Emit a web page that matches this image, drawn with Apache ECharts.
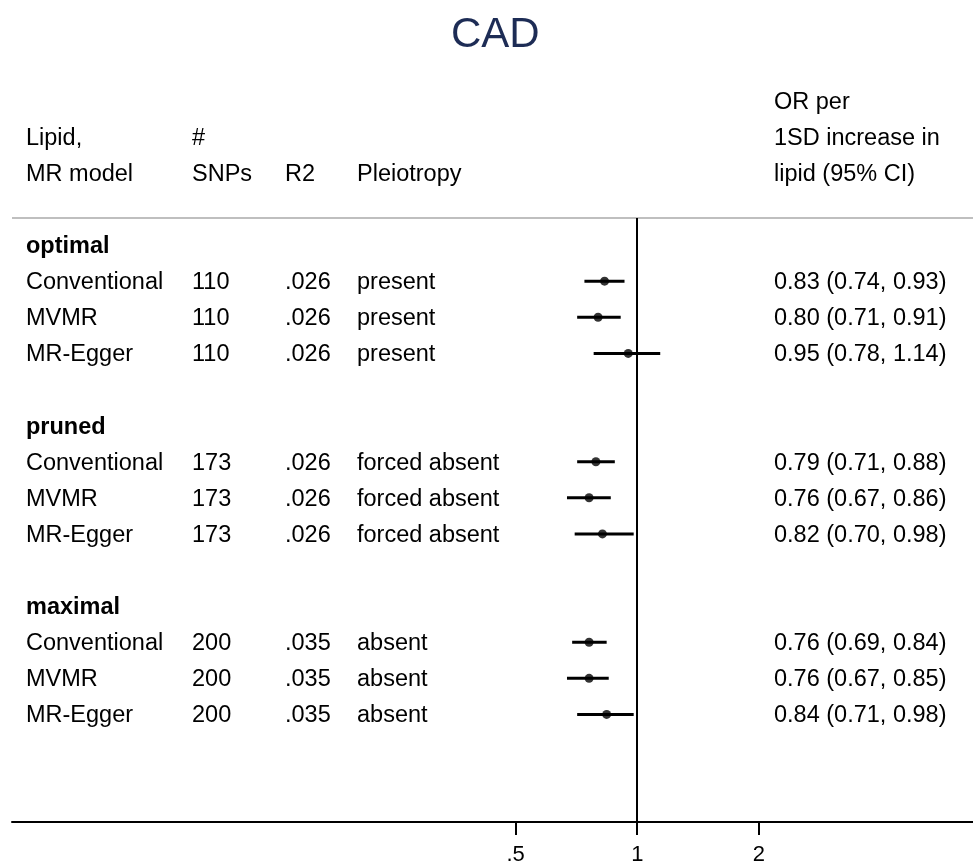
<!DOCTYPE html>
<html>
<head>
<meta charset="utf-8">
<script src="https://cdn.jsdelivr.net/npm/echarts@6/dist/echarts.min.js"></script>
<style>html,body{margin:0;padding:0;background:#fff}#c{width:973px;height:866px}</style>
</head>
<body>
<div id="c"></div>
<script>
const titleText = 'CAD';
const groups = ['optimal', 'pruned', 'maximal'];
const models = ['Conventional', 'MVMR', 'MR-Egger'];
const snps = [110, 173, 200];
const r2 = ['.026', '.026', '.035'];
const pleiotropy = ['present', 'forced absent', 'absent'];
const estimates = [0.83, 0.80, 0.95, 0.79, 0.76, 0.82, 0.76, 0.76, 0.84];
const lower = [0.74, 0.71, 0.78, 0.71, 0.67, 0.70, 0.69, 0.67, 0.71];
const upper = [0.93, 0.91, 1.14, 0.88, 0.86, 0.98, 0.84, 0.85, 0.98];
const xTickValues = [0.5, 1, 2];
const xTickLabels = ['.5', '1', '2'];
const headerLeft = [['Lipid,', 'MR model'], ['#', 'SNPs'], ['', 'R2'], ['', 'Pleiotropy']];
const headerRight = ['OR per', '1SD increase in', 'lipid (95% CI)'];

const FONT = '"Liberation Sans", Arial, Helvetica, sans-serif';
const FS = 23.5;

const rows = [];
groups.forEach((g, gi) => {
  rows.push({type: 'group', row: gi * 5, label: g});
  models.forEach((m, mi) => {
    const k = gi * 3 + mi;
    rows.push({type: 'item', row: gi * 5 + 1 + mi, label: m, snps: snps[gi], r2: r2[gi], pl: pleiotropy[gi], k: k});
  });
});
const items = rows.filter(r => r.type === 'item');
const pointData = items.map(r => [estimates[r.k], r.row]);
const ciData = items.map(r => [lower[r.k], upper[r.k], r.row]);

const chart = echarts.init(document.getElementById('c'));
chart.setOption({
  animation: false,
  backgroundColor: '#fff',
  title: {
    text: titleText, left: 446, top: 9,
    textStyle: {fontFamily: FONT, fontSize: 42, fontWeight: 'normal', color: '#1d2c55'}
  },
  grid: {left: 12, right: 0, top: 218, bottom: 41},
  xAxis: {
    type: 'log', logBase: 2, min: 0.02832, max: 6.78,
    splitLine: {show: false},
    axisLine: {onZero: false, lineStyle: {color: '#000', width: 2}},
    axisTick: {show: true, customValues: xTickValues, length: 13, lineStyle: {color: '#000', width: 2}},
    axisLabel: {
      customValues: xTickValues, margin: 22,
      fontFamily: FONT, fontSize: 22, color: '#000',
      formatter: v => { const i = xTickValues.findIndex(t => Math.abs(t - v) < 1e-6); return i >= 0 ? xTickLabels[i] : ''; }
    }
  },
  yAxis: {type: 'value', inverse: true, min: -0.75, max: 15.98, show: false},
  series: [
    {
      type: 'custom',
      data: ciData,
      renderItem: (params, api) => {
        const a = api.coord([api.value(0), api.value(2)]);
        const b = api.coord([api.value(1), api.value(2)]);
        return {type: 'line', shape: {x1: a[0], y1: a[1], x2: b[0], y2: b[1]}, style: {stroke: '#000', lineWidth: 3}};
      },
      z: 3
    },
    {
      type: 'scatter', data: pointData, symbol: 'circle', symbolSize: 9,
      itemStyle: {color: '#000'}, z: 4,
      markLine: {
        silent: true, symbol: 'none', label: {show: false},
        lineStyle: {color: '#000', width: 2, type: 'solid'},
        data: [{xAxis: 1}]
      }
    }
  ]
});

function rowY(r) { return chart.convertToPixel({yAxisIndex: 0}, r) + 1.5; }
const colX = [26, 192, 285, 357];
const rightX = 774;
const g = [];
function txt(x, y, s, bold) {
  g.push({type: 'text', x: x, y: y, style: {text: s, fontFamily: FONT, fontSize: FS, fontWeight: bold ? 'bold' : 'normal', fill: '#000', textVerticalAlign: 'middle', textAlign: 'left'}});
}
const yH0 = rowY(-3.0), yH1 = rowY(-2.0), yHTop = rowY(-4.0);
headerLeft.forEach((h, i) => { if (h[0]) txt(colX[i], yH0, h[0]); txt(colX[i], yH1, h[1]); });
txt(rightX, yHTop, headerRight[0]);
txt(rightX, yH0, headerRight[1]);
txt(rightX, yH1, headerRight[2]);
rows.forEach(r => {
  const y = rowY(r.row);
  if (r.type === 'group') { txt(colX[0], y, r.label, true); return; }
  txt(colX[0], y, r.label);
  txt(colX[1], y, String(r.snps));
  txt(colX[2], y, r.r2);
  txt(colX[3], y, r.pl);
  txt(rightX, y, estimates[r.k].toFixed(2) + ' (' + lower[r.k].toFixed(2) + ', ' + upper[r.k].toFixed(2) + ')');
});
g.push({type: 'line', shape: {x1: 12, y1: 218, x2: 973, y2: 218}, style: {stroke: '#bfbfbf', lineWidth: 2}});
chart.setOption({graphic: g});
</script>
</body>
</html>
